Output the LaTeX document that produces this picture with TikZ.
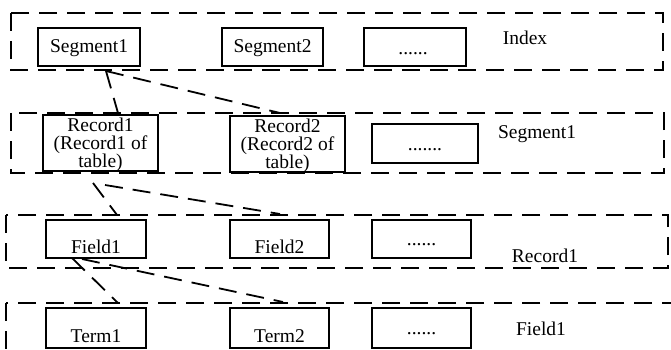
\documentclass[tikz,border=0pt]{standalone}
\usepackage{fontspec}
\setmainfont{Liberation Serif}
\newcommand{\tfont}{\fontsize{19.5}{18}\selectfont}
\begin{document}
\begin{tikzpicture}[x=1pt,y=-1pt,
  box/.style={draw, line width=1.6pt, inner sep=0pt},
  grp/.style={draw, line width=1.8pt, dash pattern=on 18pt off 10pt},
  conn/.style={draw, line width=1.8pt, dash pattern=on 18pt off 10pt},
  lbl/.style={anchor=base, inner sep=0pt, font=\tfont}]
\useasboundingbox (0,0) rectangle (671,350);
\clip (0,0) rectangle (671,350);
% group frames
\draw[grp] (11,13) rectangle (663,70);
\draw[grp] (11,113) rectangle (664,173);
\draw[grp] (6,215) rectangle (668,268);
\draw[grp] (6,303) rectangle (700,380);
% row 1
\node[box, minimum width=102pt, minimum height=38pt] (seg1) at (89,47) {};
\node[box, minimum width=101pt, minimum height=38pt] (seg2) at (272.5,47) {};
\node[box, minimum width=102pt, minimum height=38pt] (segd) at (415,47) {};
\node[lbl] (tseg1) at (89,53) {Segment1};
\node[lbl] (tseg2) at (272.5,53) {Segment2};
\node[lbl] (tsegd) at (413,55) {......};
\node[lbl] (tindex) at (525,45) {Index};
% row 2
\node[box, minimum width=115pt, minimum height=56pt] (rec1) at (100.5,143) {};
\node[box, minimum width=115pt, minimum height=56pt] (rec2) at (287.5,144) {};
\node[box, minimum width=106pt, minimum height=39pt] (recd) at (425,143.5) {};
\node[lbl] (trec1a) at (100.5,131) {Record1};
\node[lbl] (trec1b) at (100.5,149) {(Record1 of};
\node[lbl] (trec1c) at (100.5,167) {table)};
\node[lbl] (trec2a) at (287.5,132) {Record2};
\node[lbl] (trec2b) at (287.5,150) {(Record2 of};
\node[lbl] (trec2c) at (287.5,168) {table)};
\node[lbl] (trecd) at (425,150) {.......};
\node[lbl] (tsegl) at (537,139) {Segment1};
% row 3
\node[box, minimum width=100pt, minimum height=38pt] (fld1) at (96,239) {};
\node[box, minimum width=99pt, minimum height=38pt] (fld2) at (279.5,239) {};
\node[box, minimum width=99pt, minimum height=38pt] (fldd) at (421.5,239) {};
\node[lbl] (tfld1) at (96,253) {Field1};
\node[lbl] (tfld2) at (279.5,253) {Field2};
\node[lbl] (tfldd) at (421.5,245) {......};
\node[lbl] (trecl) at (545,262) {Record1};
% row 4
\node[box, minimum width=100pt, minimum height=40pt] (trm1) at (96,328) {};
\node[box, minimum width=99pt, minimum height=40pt] (trm2) at (279.5,328) {};
\node[box, minimum width=99pt, minimum height=40pt] (trmd) at (421.5,328) {};
\node[lbl] (ttrm1) at (96,342) {Term1};
\node[lbl] (ttrm2) at (279.5,342) {Term2};
\node[lbl] (ttrmd) at (421.5,334) {......};
\node[lbl] (tfldl) at (541,335) {Field1};
% connector end points
\coordinate (a0) at (106,71);
\coordinate (a1) at (118,113);
\coordinate (a2) at (280,113);
\coordinate (b0) at (93,183);
\coordinate (b1) at (117,215);
\coordinate (b3) at (105,185);
\coordinate (b2) at (280,214);
\coordinate (c0) at (72,258);
\coordinate (c1) at (118,303);
\coordinate (c3) at (82,259);
\coordinate (c2) at (283,302);
\draw[conn] (a0) -- (a1);
\draw[conn] (a0) -- (a2);
\draw[conn] (b0) -- (b1);
\draw[conn] (b3) -- (b2);
\draw[conn] (c0) -- (c1);
\draw[conn] (c3) -- (c2);
\end{tikzpicture}
\end{document}
